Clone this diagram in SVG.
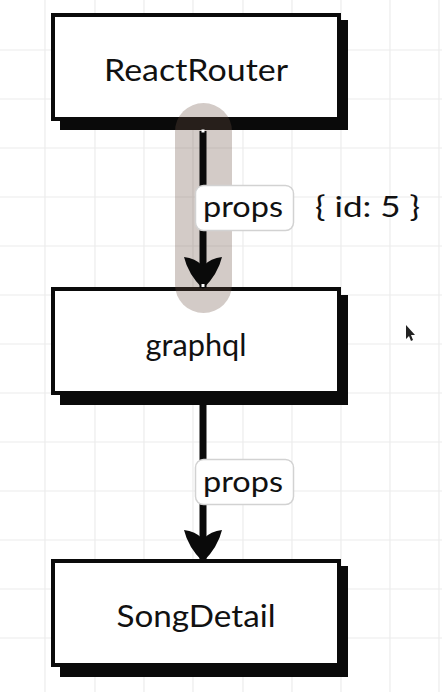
<svg xmlns="http://www.w3.org/2000/svg" width="442" height="692" viewBox="0 0 442 692">
  <defs>
    <style>
      .grid line { stroke: #ececec; stroke-width: 1.2; }
      .box { fill: #ffffff; stroke: #0a0a0a; stroke-width: 4; }
      .shadow { fill: #0a0a0a; }
      .node-text { font-family: "Lato", "Noto Sans", sans-serif; font-size: 30px; fill: #111111; text-anchor: middle; }
      .edge { stroke: #0a0a0a; stroke-width: 7; fill: none; }
      .tag { fill: #ffffff; stroke: #d2d2d2; stroke-width: 1.5; }
      .tag-text { font-family: "Lato", "Noto Sans", sans-serif; font-size: 29px; fill: #111111; text-anchor: middle; }
      .note { font-family: "Lato", "Noto Sans", sans-serif; font-size: 29px; fill: #111111; }
    </style>
    <marker id="arrowhead" viewBox="0 0 40 36" refX="20" refY="34" markerWidth="40" markerHeight="36" markerUnits="userSpaceOnUse" orient="0">
      <path d="M1,3 Q12,4 20,12 Q28,4 39,3 Q35,20 20,35 Q5,20 1,3 Z" fill="#0a0a0a"/>
    </marker>
  </defs>

  <rect width="442" height="692" fill="#ffffff"/>

  <!-- background grid -->
  <g class="grid">
    <line x1="45" y1="0" x2="45" y2="692"/>
    <line x1="95" y1="0" x2="95" y2="692"/>
    <line x1="144" y1="0" x2="144" y2="692"/>
    <line x1="193" y1="0" x2="193" y2="692"/>
    <line x1="243" y1="0" x2="243" y2="692"/>
    <line x1="292" y1="0" x2="292" y2="692"/>
    <line x1="341" y1="0" x2="341" y2="692"/>
    <line x1="390" y1="0" x2="390" y2="692"/>
    <line x1="439" y1="0" x2="439" y2="692"/>
    <line x1="0" y1="50" x2="442" y2="50"/>
    <line x1="0" y1="99" x2="442" y2="99"/>
    <line x1="0" y1="148" x2="442" y2="148"/>
    <line x1="0" y1="197" x2="442" y2="197"/>
    <line x1="0" y1="246" x2="442" y2="246"/>
    <line x1="0" y1="295" x2="442" y2="295"/>
    <line x1="0" y1="344" x2="442" y2="344"/>
    <line x1="0" y1="393" x2="442" y2="393"/>
    <line x1="0" y1="442" x2="442" y2="442"/>
    <line x1="0" y1="491" x2="442" y2="491"/>
    <line x1="0" y1="540" x2="442" y2="540"/>
    <line x1="0" y1="589" x2="442" y2="589"/>
    <line x1="0" y1="638" x2="442" y2="638"/>
  </g>

  <!-- nodes: offset black shadow, then the white framed box -->
  <g id="node-reactrouter">
    <rect class="shadow" x="60" y="20" width="288" height="110"/>
    <rect class="box" x="53" y="15" width="286" height="104"/>
    <text class="node-text" x="196" y="81" textLength="184" lengthAdjust="spacingAndGlyphs">ReactRouter</text>
  </g>

  <g id="node-graphql">
    <rect class="shadow" x="60" y="295" width="288" height="110"/>
    <rect class="box" x="53" y="289" width="286" height="104"/>
    <text class="node-text" x="196" y="356" textLength="101" lengthAdjust="spacingAndGlyphs">graphql</text>
  </g>

  <g id="node-songdetail">
    <rect class="shadow" x="60" y="566" width="288" height="111"/>
    <rect class="box" x="53" y="561" width="286" height="104"/>
    <text class="node-text" x="196" y="627" textLength="159" lengthAdjust="spacingAndGlyphs">SongDetail</text>
  </g>

  <!-- selection highlight over the first edge -->
  <rect x="175" y="103" width="57" height="210" rx="28.5" fill="#6c5244" fill-opacity="0.3"/>

  <!-- connectors -->
  <g id="edges">
    <line class="edge" x1="203" y1="131" x2="203" y2="288" marker-end="url(#arrowhead)"/>
    <line class="edge" x1="203" y1="405" x2="203" y2="561" marker-end="url(#arrowhead)"/>
    <rect x="201.5" y="129.5" width="3" height="3" fill="#ffffff"/>
    <rect x="201.5" y="284" width="3" height="3" fill="#ffffff"/>

    <rect class="tag" x="195.5" y="185.5" width="98" height="45" rx="8"/>
    <text class="tag-text" x="243" y="217" textLength="80" lengthAdjust="spacingAndGlyphs">props</text>
    <rect class="tag" x="195.5" y="459.5" width="98" height="45" rx="8"/>
    <text class="tag-text" x="243" y="492" textLength="80" lengthAdjust="spacingAndGlyphs">props</text>
  </g>

  <text class="note" x="315" y="217" textLength="105" lengthAdjust="spacingAndGlyphs">{ id: 5 }</text>

  <!-- pointer -->
  <path d="M406,325 L406,339 L409,336 L411,341 L413,340 L411,335 L415,335 Z" fill="#222222"/>
</svg>
